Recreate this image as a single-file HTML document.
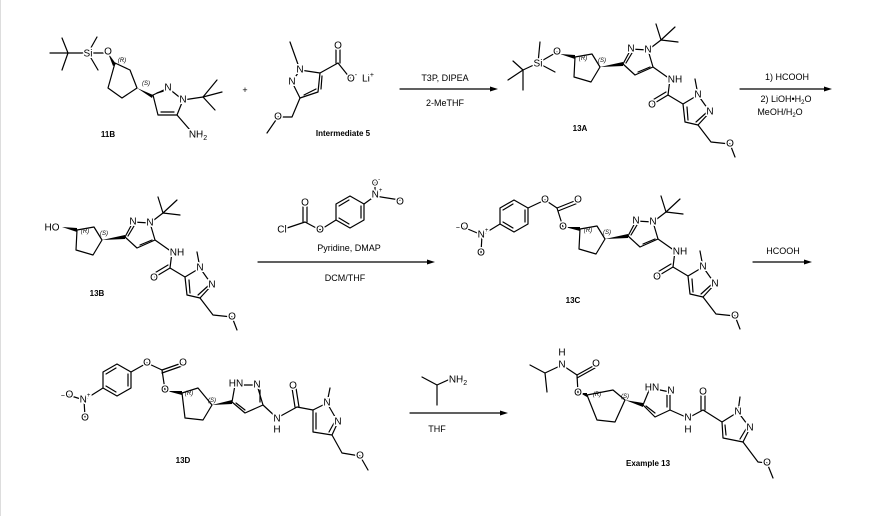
<!DOCTYPE html>
<html><head><meta charset="utf-8"><style>
html,body{margin:0;padding:0;background:#fff;}
svg{display:block;}
.b{stroke:#000;stroke-width:1.2;fill:none;stroke-linecap:round;stroke-linejoin:round;}
text{font-family:"Liberation Sans",sans-serif;fill:#000;}
.a{font-size:10px;paint-order:stroke;stroke:#fff;stroke-width:3px;text-anchor:middle;dominant-baseline:central;}
.s{font-size:6px;font-style:italic;text-anchor:middle;}
.l{font-size:8px;font-weight:bold;text-anchor:middle;}
.r{font-size:9px;text-anchor:middle;}
</style></head><body>
<svg width="880" height="516" viewBox="0 0 880 516" xmlns="http://www.w3.org/2000/svg">
<rect x="0" y="0" width="880" height="516" fill="#fff"/>
<line x1="0.5" y1="0" x2="0.5" y2="516" stroke="#ddd"/>

<!-- 11B -->
<g>
<polyline class="b" points="50,53 88,53"/>
<polyline class="b" points="62,38 68,53 62,70"/>
<polyline class="b" points="97,37 88,53 98,70"/>
<line class="b" x1="88" y1="53" x2="108" y2="53"/>
<polygon points="108,53 116,64 113,66" fill="#000"/>
<polygon class="b" points="115,63 130,70 137,88 122,98 108,88"/>
<polygon points="137,88 153,95 152,98" fill="#000"/>
<polyline class="b" points="153,95 168,88 183,100 177,115 158,115 153,95"/>
<line class="b" x1="157" y1="93" x2="167" y2="90"/>
<line class="b" x1="161" y1="112" x2="174" y2="112"/>
<line class="b" x1="183" y1="100" x2="203" y2="97"/>
<polyline class="b" points="217,80 203,97 222,92"/>
<line class="b" x1="203" y1="97" x2="215" y2="110"/>
<line class="b" x1="177" y1="115" x2="190" y2="130"/>
<text class="a" x="88" y="54">Si</text>
<text class="a" x="108" y="52">O</text>
<text class="a" x="168" y="88">N</text>
<text class="a" x="183" y="100">N</text>
<text class="a" x="198" y="135">NH<tspan font-size="7" dy="3">2</tspan></text>
<text class="s" x="122" y="62">(R)</text>
<text class="s" x="146" y="85">(S)</text>
<text class="l" x="108" y="137">11B</text>
</g>
<text class="r" x="245" y="93">+</text>

<!-- Intermediate 5 -->
<g>
<polyline class="b" points="290,42 300,70 320,73 318,92 300,98 292,82 300,70"/>
<line class="b" x1="304" y1="95" x2="316" y2="89"/>
<line class="b" x1="322" y1="76" x2="321" y2="89"/>
<line class="b" x1="320" y1="73" x2="338" y2="63"/>
<line class="b" x1="336" y1="63" x2="336" y2="47"/>
<line class="b" x1="340" y1="63" x2="340" y2="47"/>
<line class="b" x1="338" y1="63" x2="350" y2="78"/>
<polyline class="b" points="300,98 292,117 278,117 267,133"/>
<text class="a" x="300" y="70">N</text>
<text class="a" x="292" y="82">N</text>
<text class="a" x="338" y="46">O</text>
<text class="a" x="352" y="79">O<tspan font-size="7" dy="-4">-</tspan></text>
<text class="a" x="368" y="79">Li<tspan font-size="7" dy="-4">+</tspan></text>
<text class="a" x="278" y="117">O</text>
<text class="l" x="343" y="136">Intermediate 5</text>
</g>

<!-- arrow 1 -->
<line class="b" x1="400" y1="89" x2="494" y2="89"/>
<polygon points="498,89 490,86.5 490,91.5" fill="#000"/>
<text class="r" x="445" y="81">T3P, DIPEA</text>
<text class="r" x="445" y="106">2-MeTHF</text>

<g id="c13B">
<polygon class="b" points="77,230 94,227 102,240 93,255 76,250"/>
<polygon points="102,240 125,235 125,239" fill="#000"/>
<polyline class="b" points="125,237 133,222 150,223 155,240 137,248 125,237"/>
<line class="b" x1="128" y1="236" x2="134" y2="226"/>
<line class="b" x1="140" y1="245" x2="152" y2="240"/>
<line class="b" x1="150" y1="223" x2="163" y2="213"/>
<polyline class="b" points="158,197 163,213 177,200"/>
<line class="b" x1="163" y1="213" x2="180" y2="215"/>
<line class="b" x1="155" y1="240" x2="172" y2="252"/>
<line class="b" x1="172" y1="252" x2="170" y2="268"/>
<line class="b" x1="170" y1="268" x2="155" y2="277"/>
<line class="b" x1="168" y1="265" x2="153" y2="274"/>
<line class="b" x1="170" y1="268" x2="185" y2="277"/>
<polyline class="b" points="185,277 200,268 212,285 200,298 187,295 185,277"/>
<line class="b" x1="208" y1="286" x2="198" y2="295"/>
<line class="b" x1="189" y1="280" x2="190" y2="293"/>
<line class="b" x1="200" y1="268" x2="197" y2="252"/>
<polyline class="b" points="200,298 213,315 232,317 237,330"/>
<text class="a" x="133" y="222">N</text>
<text class="a" x="150" y="223">N</text>
<text class="a" x="177" y="253">NH</text>
<text class="a" x="154" y="278">O</text>
<text class="a" x="200" y="268">N</text>
<text class="a" x="212" y="285">N</text>
<text class="a" x="232" y="317">O</text>
<text class="s" x="85" y="233">(R)</text>
<text class="s" x="104" y="235">(S)</text>
</g>
<polygon points="62,227 77,228 77,232" fill="#000"/>
<text class="a" x="52" y="228">HO</text>
<text class="l" x="97" y="296">13B</text>

<!-- 13A -->
<g transform="translate(498,-173)">
<polygon class="b" points="77,230 94,227 102,240 93,255 76,250"/>
<polygon points="102,240 125,235 125,239" fill="#000"/>
<polyline class="b" points="125,237 133,222 150,223 155,240 137,248 125,237"/>
<line class="b" x1="128" y1="236" x2="134" y2="226"/>
<line class="b" x1="140" y1="245" x2="152" y2="240"/>
<line class="b" x1="150" y1="223" x2="163" y2="213"/>
<polyline class="b" points="158,197 163,213 177,200"/>
<line class="b" x1="163" y1="213" x2="180" y2="215"/>
<line class="b" x1="155" y1="240" x2="172" y2="252"/>
<line class="b" x1="172" y1="252" x2="170" y2="268"/>
<line class="b" x1="170" y1="268" x2="155" y2="277"/>
<line class="b" x1="168" y1="265" x2="153" y2="274"/>
<line class="b" x1="170" y1="268" x2="185" y2="277"/>
<polyline class="b" points="185,277 200,268 212,285 200,298 187,295 185,277"/>
<line class="b" x1="208" y1="286" x2="198" y2="295"/>
<line class="b" x1="189" y1="280" x2="190" y2="293"/>
<line class="b" x1="200" y1="268" x2="197" y2="252"/>
<polyline class="b" points="200,298 213,315 232,317 237,330"/>
<text class="a" x="133" y="222">N</text>
<text class="a" x="150" y="223">N</text>
<text class="a" x="177" y="253">NH</text>
<text class="a" x="154" y="278">O</text>
<text class="a" x="200" y="268">N</text>
<text class="a" x="212" y="285">N</text>
<text class="a" x="232" y="317">O</text>
<text class="s" x="85" y="233">(R)</text>
<text class="s" x="104" y="235">(S)</text>
</g>
<polygon points="560,54 575,55 575,59" fill="#000"/>
<line class="b" x1="557" y1="52" x2="538" y2="63"/>
<line class="b" x1="538" y1="63" x2="540" y2="42"/>
<line class="b" x1="538" y1="63" x2="555" y2="72"/>
<line class="b" x1="538" y1="63" x2="523" y2="70"/>
<polyline class="b" points="508,80 523,70 513,61"/>
<line class="b" x1="523" y1="70" x2="523" y2="90"/>
<text class="a" x="557" y="52">O</text>
<text class="a" x="538" y="64">Si</text>
<text class="l" x="580" y="131">13A</text>

<!-- arrow 2 -->
<line class="b" x1="740" y1="89" x2="828" y2="89"/>
<polygon points="832,89 824,86.5 824,91.5" fill="#000"/>
<text class="r" x="787" y="80">1) HCOOH</text>
<text class="r" x="786" y="102">2) LiOH•H<tspan font-size="6" dy="2">2</tspan><tspan dy="-2">O</tspan></text>
<text class="r" x="780" y="115">MeOH/H<tspan font-size="6" dy="2">2</tspan><tspan dy="-2">O</tspan></text>

<!-- row2 reagent -->
<line class="b" x1="258" y1="262" x2="431" y2="262"/>
<polygon points="435,262 427,259.5 427,264.5" fill="#000"/>
<line class="b" x1="287" y1="228" x2="305" y2="222"/>
<line class="b" x1="303" y1="222" x2="303" y2="205"/>
<line class="b" x1="307" y1="222" x2="307" y2="205"/>
<line class="b" x1="305" y1="222" x2="320" y2="230"/>
<line class="b" x1="320" y1="230" x2="336" y2="220"/>
<polygon class="b" points="336,220 336,204 350,196 364,204 364,220 350,228"/>
<line class="b" x1="339" y1="206" x2="349" y2="200"/>
<line class="b" x1="361" y1="206" x2="361" y2="218"/>
<line class="b" x1="339" y1="218" x2="349" y2="224"/>
<line class="b" x1="364" y1="204" x2="375" y2="196"/>
<line class="b" x1="375" y1="196" x2="375" y2="183"/>
<line class="b" x1="375" y1="196" x2="400" y2="200"/>
<text class="a" x="282" y="230">Cl</text>
<text class="a" x="305" y="203">O</text>
<text class="a" x="320" y="230">O</text>
<text class="a" x="377" y="195">N<tspan font-size="6" dy="-4">+</tspan></text>
<text class="a" x="400" y="202">O</text>
<text class="a" x="376" y="183" style="font-size:8px">O<tspan font-size="6" dy="-3">-</tspan></text>
<text class="r" x="349" y="251">Pyridine, DMAP</text>
<text class="r" x="345" y="281">DCM/THF</text>

<!-- 13C -->
<g transform="translate(503,-1)">
<polygon class="b" points="77,230 94,227 102,240 93,255 76,250"/>
<polygon points="102,240 125,235 125,239" fill="#000"/>
<polyline class="b" points="125,237 133,222 150,223 155,240 137,248 125,237"/>
<line class="b" x1="128" y1="236" x2="134" y2="226"/>
<line class="b" x1="140" y1="245" x2="152" y2="240"/>
<line class="b" x1="150" y1="223" x2="163" y2="213"/>
<polyline class="b" points="158,197 163,213 177,200"/>
<line class="b" x1="163" y1="213" x2="180" y2="215"/>
<line class="b" x1="155" y1="240" x2="172" y2="252"/>
<line class="b" x1="172" y1="252" x2="170" y2="268"/>
<line class="b" x1="170" y1="268" x2="155" y2="277"/>
<line class="b" x1="168" y1="265" x2="153" y2="274"/>
<line class="b" x1="170" y1="268" x2="185" y2="277"/>
<polyline class="b" points="185,277 200,268 212,285 200,298 187,295 185,277"/>
<line class="b" x1="208" y1="286" x2="198" y2="295"/>
<line class="b" x1="189" y1="280" x2="190" y2="293"/>
<line class="b" x1="200" y1="268" x2="197" y2="252"/>
<polyline class="b" points="200,298 213,315 232,317 237,330"/>
<text class="a" x="133" y="222">N</text>
<text class="a" x="150" y="223">N</text>
<text class="a" x="177" y="253">NH</text>
<text class="a" x="154" y="278">O</text>
<text class="a" x="200" y="268">N</text>
<text class="a" x="212" y="285">N</text>
<text class="a" x="232" y="317">O</text>
<text class="s" x="85" y="233">(R)</text>
<text class="s" x="104" y="235">(S)</text>
</g>
<polygon points="565,227 580,227 580,231" fill="#000"/>
<line class="b" x1="563" y1="227" x2="557" y2="208"/>
<line class="b" x1="557" y1="208" x2="577" y2="200"/>
<line class="b" x1="558" y1="211" x2="578" y2="203"/>
<line class="b" x1="557" y1="208" x2="545" y2="200"/>
<line class="b" x1="545" y1="200" x2="528" y2="208"/>
<polygon class="b" points="528,208 528,224 514,232 500,224 500,208 514,200"/>
<line class="b" x1="503" y1="210" x2="513" y2="204"/>
<line class="b" x1="525" y1="210" x2="525" y2="222"/>
<line class="b" x1="503" y1="222" x2="513" y2="228"/>
<line class="b" x1="500" y1="224" x2="482" y2="235"/>
<line class="b" x1="482" y1="235" x2="463" y2="227"/>
<line class="b" x1="482" y1="235" x2="481" y2="253"/>
<text class="a" x="563" y="227">O</text>
<text class="a" x="578" y="200">O</text>
<text class="a" x="545" y="200">O</text>
<text class="a" x="483" y="235">N<tspan font-size="6" dy="-4">+</tspan></text>
<text class="a" x="462" y="227"><tspan font-size="8">−</tspan>O</text>
<text class="a" x="481" y="253">O</text>
<text class="l" x="573" y="303">13C</text>

<!-- arrow 3 -->
<line class="b" x1="753" y1="262" x2="808" y2="262"/>
<polygon points="812,262 804,259.5 804,264.5" fill="#000"/>
<text class="r" x="783" y="254">HCOOH</text>

<!-- 13D -->
<g>
<polygon class="b" points="131,372 131,388 117,396 103,388 103,372 117,364"/>
<line class="b" x1="106" y1="374" x2="116" y2="368"/>
<line class="b" x1="128" y1="374" x2="128" y2="386"/>
<line class="b" x1="106" y1="386" x2="116" y2="392"/>
<line class="b" x1="131" y1="372" x2="147" y2="363"/>
<line class="b" x1="147" y1="363" x2="162" y2="370"/>
<line class="b" x1="162" y1="370" x2="182" y2="363"/>
<line class="b" x1="162" y1="373" x2="182" y2="366"/>
<line class="b" x1="162" y1="370" x2="165" y2="390"/>
<polygon points="167,391 182,391 182,395" fill="#000"/>
<line class="b" x1="103" y1="388" x2="84" y2="400"/>
<line class="b" x1="84" y1="400" x2="68" y2="395"/>
<line class="b" x1="84" y1="400" x2="85" y2="417"/>
<polygon class="b" points="182,393 198,388 212,405 203,420 185,418"/>
<polygon points="212,405 232,400 232,404" fill="#000"/>
<polyline class="b" points="232,402 235,385 257,385 263,405 245,413 232,402"/>
<line class="b" x1="260" y1="390" x2="260" y2="402"/>
<line class="b" x1="236" y1="403" x2="245" y2="410"/>
<line class="b" x1="263" y1="405" x2="277" y2="418"/>
<line class="b" x1="277" y1="418" x2="297" y2="407"/>
<line class="b" x1="295" y1="407" x2="292" y2="388"/>
<line class="b" x1="299" y1="407" x2="296" y2="388"/>
<line class="b" x1="297" y1="407" x2="313" y2="410"/>
<polyline class="b" points="313,410 327,403 338,422 332,435 313,432 313,410"/>
<line class="b" x1="334" y1="423" x2="329" y2="432"/>
<line class="b" x1="316" y1="413" x2="316" y2="429"/>
<line class="b" x1="327" y1="403" x2="330" y2="388"/>
<polyline class="b" points="332,435 342,453 360,456 368,470"/>
<text class="a" x="147" y="363">O</text>
<text class="a" x="183" y="363">O</text>
<text class="a" x="165" y="390">O</text>
<text class="a" x="85" y="400">N<tspan font-size="6" dy="-4">+</tspan></text>
<text class="a" x="67" y="395"><tspan font-size="8">−</tspan>O</text>
<text class="a" x="85" y="418">O</text>
<text class="a" x="236" y="384">HN</text>
<text class="a" x="257" y="385">N</text>
<text class="a" x="277" y="419">N</text>
<text class="a" x="277" y="430">H</text>
<text class="a" x="293" y="386">O</text>
<text class="a" x="327" y="403">N</text>
<text class="a" x="338" y="422">N</text>
<text class="a" x="360" y="456">O</text>
<text class="s" x="189" y="395">(R)</text>
<text class="s" x="212" y="402">(S)</text>
<text class="l" x="183" y="463">13D</text>
</g>

<!-- arrow 4 -->
<line class="b" x1="410" y1="413" x2="504" y2="413"/>
<polygon points="508,413 500,410.5 500,415.5" fill="#000"/>
<polyline class="b" points="422,377 437,385 437,405"/>
<line class="b" x1="437" y1="385" x2="448" y2="380"/>
<text class="a" x="458" y="380" style="text-anchor:middle">NH<tspan font-size="7" dy="3">2</tspan></text>
<text class="r" x="437" y="432">THF</text>

<!-- Example 13 -->
<g>
<polyline class="b" points="530,365 545,373 547,392"/>
<line class="b" x1="545" y1="373" x2="562" y2="365"/>
<line class="b" x1="562" y1="365" x2="577" y2="375"/>
<line class="b" x1="577" y1="375" x2="595" y2="365"/>
<line class="b" x1="577" y1="378" x2="595" y2="368"/>
<line class="b" x1="577" y1="375" x2="578" y2="393"/>
<polygon points="580,393 587,393 587,397" fill="#000"/>
<polygon class="b" points="587,395 613,390 625,400 615,422 597,420"/>
<polygon points="625,400 643,403 643,407" fill="#000"/>
<polyline class="b" points="643,405 650,388 670,392 670,410 655,417 643,405"/>
<line class="b" x1="667" y1="395" x2="667" y2="407"/>
<line class="b" x1="646" y1="406" x2="655" y2="413"/>
<line class="b" x1="670" y1="410" x2="688" y2="418"/>
<line class="b" x1="688" y1="418" x2="703" y2="410"/>
<line class="b" x1="701" y1="410" x2="701" y2="394"/>
<line class="b" x1="705" y1="410" x2="705" y2="394"/>
<line class="b" x1="703" y1="410" x2="722" y2="422"/>
<polyline class="b" points="722,422 738,412 750,428 743,442 723,438 722,422"/>
<line class="b" x1="746" y1="429" x2="740" y2="439"/>
<line class="b" x1="725" y1="425" x2="726" y2="435"/>
<line class="b" x1="738" y1="412" x2="740" y2="397"/>
<polyline class="b" points="743,442 758,462 767,463 773,478"/>
<text class="a" x="562" y="365">N</text>
<text class="a" x="562" y="353">H</text>
<text class="a" x="596" y="364">O</text>
<text class="a" x="578" y="393">O</text>
<text class="a" x="652" y="388">HN</text>
<text class="a" x="671" y="391">N</text>
<text class="a" x="688" y="418">N</text>
<text class="a" x="688" y="430">H</text>
<text class="a" x="703" y="392">O</text>
<text class="a" x="738" y="412">N</text>
<text class="a" x="750" y="428">N</text>
<text class="a" x="767" y="463">O</text>
<text class="s" x="597" y="396">(R)</text>
<text class="s" x="625" y="398">(S)</text>
<text class="l" x="648" y="466">Example 13</text>
</g>
</svg>
</body></html>
